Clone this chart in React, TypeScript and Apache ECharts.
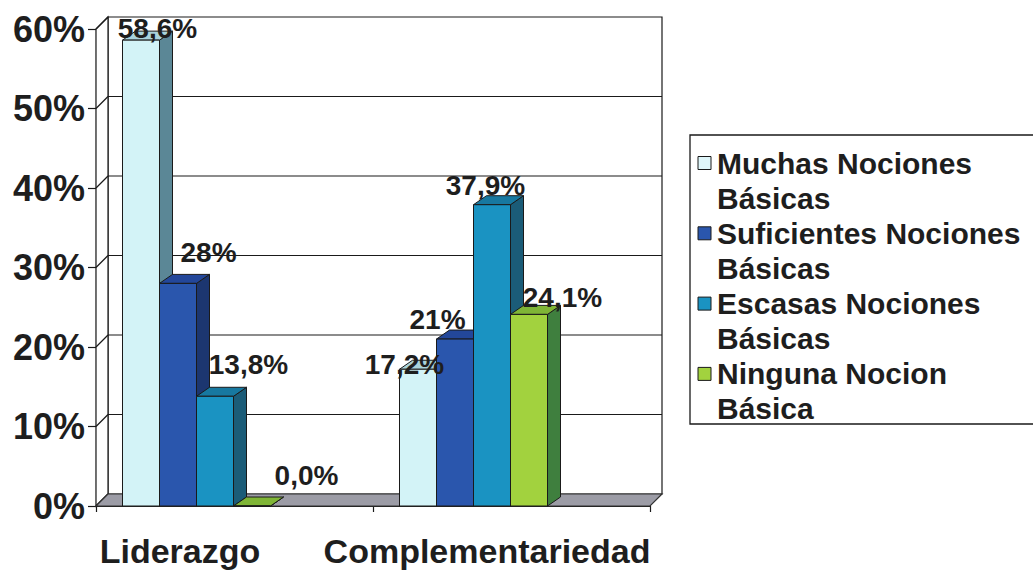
import React, { useEffect, useRef } from "react";
import * as echarts from "echarts";

// Categories and series
const CATEGORIES = ["Liderazgo", "Complementariedad"];
const SERIES_NAMES = [
  "Muchas Nociones Básicas",
  "Suficientes Nociones Básicas",
  "Escasas Nociones Básicas",
  "Ninguna Nocion Básica",
];

// Percentages per category (Liderazgo, Complementariedad)
const MUCHAS = [58.6, 17.2];
const SUFICIENTES = [28, 21];
const ESCASAS = [13.8, 37.9];
const NINGUNA = [0, 24.1];
const SERIES_VALUES = [MUCHAS, SUFICIENTES, ESCASAS, NINGUNA];

// Decimals shown in each series' value labels
const DECIMALS = [1, 0, 1, 1];

// Value axis ticks
const Y_TICKS = [0, 10, 20, 30, 40, 50, 60];

// Face colours: front, side, top
const FRONT = ["#d3f3f7", "#2a56ad", "#1a93c2", "#a2d23e"];
const SIDE = ["#5b8796", "#1c3670", "#1b5c78", "#3f7f3e"];
const TOP = ["#a9d3dc", "#23479a", "#1778a0", "#7fb536"];
const LEGEND_SWATCH = ["#dff6fa", "#2a56ad", "#1a93c2", "#a2d23e"];

// Label nudges (px) relative to the centre of each bar's top face
const LABEL_NUDGE = [
  [[10, -7], [-20, 0]],
  [[24, -26], [-24, -15]],
  [[27, -27], [-13, -15]],
  [[48, -26], [27, -12]],
];

// 3D projection of the box and of the bars
const WALL_DX = 12;
const WALL_DY = -12;
const BAR_DX = 13;
const BAR_DY = -9;
const BAR_OFFSET = 26.5 / 277; // first bar's offset within a category band
const BAR_PITCH = 37 / 277; // bar width, as a fraction of the band

const FONT = '"Liberation Sans", Arial, Helvetica, sans-serif';
const INK = "#1e1e1e";
const EDGE = "#1a1a1a";

function formatPct(v: number, d: number) {
  return v.toFixed(d).replace(".", ",") + "%";
}

function bandEdges(api: any) {
  const band = api.size([1, 0])[0];
  const left = api.coord([0, 0])[0] - band / 2;
  const right = api.coord([CATEGORIES.length - 1, 0])[0] + band / 2;
  return { band, left, right };
}

function barGeometry(api: any, c: number, v: number, s: number) {
  const band = api.size([1, 0])[0];
  const [cx, y0] = api.coord([c, 0]);
  const y1 = api.coord([c, v])[1];
  const w = band * BAR_PITCH;
  const x0 = cx - band / 2 + band * BAR_OFFSET + s * w;
  return { x0, x1: x0 + w, y0, y1 };
}

// Back wall, side wall, gridlines and floor
function renderWalls(_params: any, api: any) {
  const { left, right } = bandEdges(api);
  const yZero = api.coord([0, 0])[1];
  const yTop = api.coord([0, Y_TICKS[Y_TICKS.length - 1]])[1];
  const children: any[] = [];
  children.push({
    type: "rect",
    shape: { x: left + WALL_DX, y: yTop + WALL_DY, width: right - left, height: yZero - yTop },
    style: { fill: "#fff", stroke: EDGE, lineWidth: 1.2 },
  });
  children.push({
    type: "polygon",
    shape: {
      points: [
        [left, yZero],
        [left + WALL_DX, yZero + WALL_DY],
        [left + WALL_DX, yTop + WALL_DY],
        [left, yTop],
      ],
    },
    style: { fill: "#fff", stroke: EDGE, lineWidth: 1.2 },
  });
  Y_TICKS.forEach((t) => {
    const y = api.coord([0, t])[1];
    if (t > 0 && t < Y_TICKS[Y_TICKS.length - 1]) {
      children.push({
        type: "line",
        shape: { x1: left + WALL_DX, y1: y + WALL_DY, x2: right + WALL_DX, y2: y + WALL_DY },
        style: { stroke: EDGE, lineWidth: 1.2 },
      });
    }
    children.push({
      type: "line",
      shape: { x1: left, y1: y, x2: left + WALL_DX, y2: y + WALL_DY },
      style: { stroke: EDGE, lineWidth: 1.2 },
    });
  });
  children.push({
    type: "polygon",
    shape: {
      points: [
        [left, yZero],
        [right, yZero],
        [right + WALL_DX, yZero + WALL_DY],
        [left + WALL_DX, yZero + WALL_DY],
      ],
    },
    style: { fill: "#9c9ca6", stroke: "#333", lineWidth: 1.2 },
  });
  return { type: "group", children };
}

function makeBarRenderer(s: number) {
  return (_params: any, api: any) => {
    const c = api.value(0);
    const v = api.value(1);
    const { x0, x1, y0, y1 } = barGeometry(api, c, v, s);
    const stroke = { stroke: EDGE, lineWidth: 1, lineJoin: "round" };
    return {
      type: "group",
      children: [
        {
          type: "polygon",
          shape: {
            points: [
              [x1, y1],
              [x1 + BAR_DX, y1 + BAR_DY],
              [x1 + BAR_DX, y0 + BAR_DY],
              [x1, y0],
            ],
          },
          style: { fill: SIDE[s], ...stroke },
        },
        {
          type: "polygon",
          shape: {
            points: [
              [x0, y1],
              [x0 + BAR_DX, y1 + BAR_DY],
              [x1 + BAR_DX, y1 + BAR_DY],
              [x1, y1],
            ],
          },
          style: { fill: TOP[s], ...stroke },
        },
        {
          type: "rect",
          shape: { x: x0, y: y1, width: x1 - x0, height: y0 - y1 },
          style: { fill: FRONT[s], ...stroke },
        },
      ],
    };
  };
}

function renderLabel(_params: any, api: any) {
  const c = api.value(0);
  const v = api.value(1);
  const s = api.value(2);
  const { x0, x1, y1 } = barGeometry(api, c, v, s);
  const [nx, ny] = LABEL_NUDGE[s][c];
  return {
    type: "text",
    x: (x0 + x1) / 2 + BAR_DX / 2 + nx,
    y: y1 + BAR_DY / 2 + ny,
    style: {
      text: formatPct(v, DECIMALS[s]),
      fill: INK,
      fontSize: 28,
      fontWeight: "bold",
      fontFamily: FONT,
      align: "center",
      verticalAlign: "middle",
    },
  };
}

function legendGraphics() {
  const x = 690;
  const y = 135;
  const pitch = 70.3;
  const children: any[] = [
    {
      type: "rect",
      shape: { x, y, width: 360, height: 289 },
      style: { fill: "#fff", stroke: EDGE, lineWidth: 1.3 },
    },
  ];
  SERIES_NAMES.forEach((name, k) => {
    const label = name.replace(/ (Básicas?)$/, "\n$1");
    children.push({
      type: "rect",
      shape: { x: x + 8, y: y + 28 + k * pitch - 6.5, width: 13, height: 13 },
      style: { fill: LEGEND_SWATCH[k], stroke: EDGE, lineWidth: 1 },
    });
    children.push({
      type: "text",
      x: x + 27,
      y: y + 10.5 + k * pitch,
      style: {
        text: label,
        fill: INK,
        fontSize: 30,
        fontWeight: "bold",
        fontFamily: FONT,
        lineHeight: 35,
        verticalAlign: "top",
        align: "left",
      },
    });
  });
  return [{ type: "group", children }];
}

export default function App() {
  const ref = useRef<HTMLDivElement>(null);

  useEffect(() => {
    if (!ref.current) return;
    const chart = echarts.init(ref.current, undefined, { renderer: "svg" });

    const labelData: number[][] = [];
    SERIES_VALUES.forEach((vals, s) => vals.forEach((v, c) => labelData.push([c, v, s])));

    const catLabel = (padRight: number) => ({
      fontSize: 34,
      fontWeight: "bold",
      fontFamily: FONT,
      color: INK,
      lineHeight: 34,
      padding: [0, padRight, 0, 0],
    });

    chart.setOption({
      animation: false,
      backgroundColor: "#fff",
      textStyle: { fontFamily: FONT },
      grid: { left: 96, right: 383, top: 29, bottom: 66 },
      xAxis: {
        type: "category",
        data: CATEGORIES,
        boundaryGap: true,
        axisLine: { show: true, lineStyle: { color: EDGE, width: 1.2 } },
        axisTick: { show: true, length: 6, lineStyle: { color: EDGE, width: 1.2 } },
        axisLabel: {
          interval: 0,
          margin: 28,
          formatter: (v: string, i: number) => `{c${i}|${v}}`,
          rich: { c0: catLabel(109), c1: catLabel(49) },
        },
        splitLine: { show: false },
      },
      yAxis: {
        type: "value",
        min: Y_TICKS[0],
        max: Y_TICKS[Y_TICKS.length - 1],
        interval: 10,
        axisLine: { show: true, lineStyle: { color: EDGE, width: 1.2 } },
        axisTick: { show: true, length: 8, lineStyle: { color: EDGE, width: 1.2 } },
        axisLabel: {
          formatter: "{value}%",
          fontSize: 36,
          fontWeight: "bold",
          color: INK,
          margin: 11,
          lineHeight: 36,
          padding: [0, 0, 8, 0],
        },
        splitLine: { show: false },
      },
      graphic: legendGraphics(),
      series: [
        {
          type: "custom",
          name: "walls",
          z: 1,
          silent: true,
          renderItem: renderWalls,
          data: [[0, 0]],
          encode: { x: 0, y: 1 },
        },
        ...SERIES_NAMES.map((name, s) => ({
          type: "custom",
          name,
          z: 2,
          renderItem: makeBarRenderer(s),
          data: SERIES_VALUES[s].map((v, c) => [c, v]),
          encode: { x: 0, y: 1 },
        })),
        {
          type: "custom",
          name: "labels",
          z: 5,
          silent: true,
          renderItem: renderLabel,
          data: labelData,
          encode: { x: 0, y: 1 },
        },
      ],
    });

    return () => chart.dispose();
  }, []);

  return (
    <div
      ref={ref}
      style={{ position: "fixed", left: 0, top: 0, width: 1033, height: 572, background: "#fff" }}
    />
  );
}
